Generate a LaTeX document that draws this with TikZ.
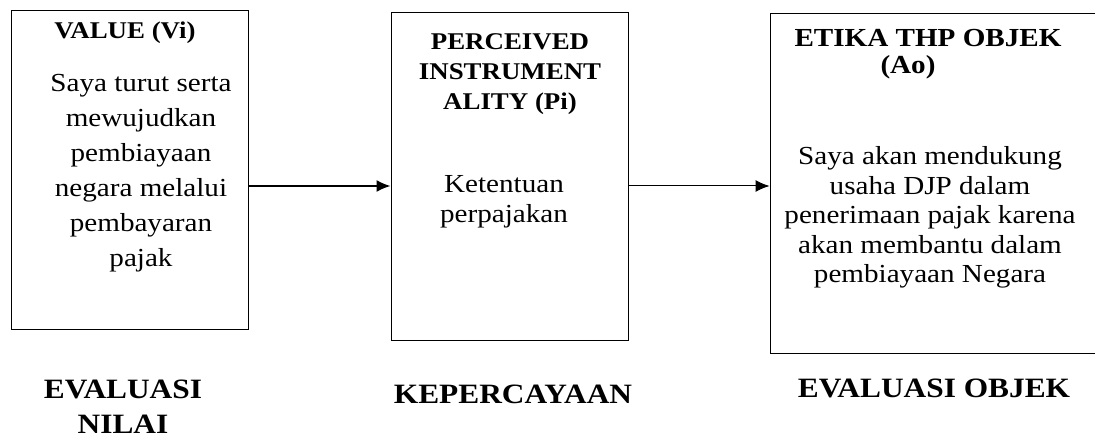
\documentclass[tikz,border=0pt]{standalone}
\usepackage{fontspec}
\setmainfont{Liberation Serif}[FakeStretch=1.12]
\usetikzlibrary{arrows.meta}
\tikzstyle{block} = [rectangle, draw, line width=1pt, inner sep=0pt]
\tikzstyle{link} = [draw, -{Latex[length=14pt,width=12pt]}]
\tikzset{
	heading/.style={anchor=base, align=center, inner sep=0pt,
		font=\fontsize{24}{30}\selectfont\bfseries},
	content/.style={anchor=base, align=center, inner sep=0pt,
		font=\fontsize{26}{#1}\selectfont},
	content/.default=30,
	caption/.style={anchor=base, align=center, inner sep=0pt,
		font=\fontsize{28}{35}\selectfont\bfseries},
}

\begin{document}
\begin{tikzpicture}[x=1pt, y=-1pt]
\useasboundingbox (0,0) rectangle (1095,438);

\node [block, minimum width=237pt, minimum height=319pt] at (129.5,170.5) (vi) {};
\node [block, minimum width=237pt, minimum height=327pt] at (509.5,176.5) (pi) {};
\node [block, minimum width=330pt, minimum height=339pt] at (935,183.5) (ao) {};

% base = last line
\node [heading] at (125,39) (vi title) {VALUE (Vi)};
\node [content=35] at (141,267) (vi text) {Saya turut serta\\ mewujudkan\\ pembiayaan\\
	negara melalui\\ pembayaran\\ pajak};

\node [heading] at (510,110) (pi title) {PERCEIVED\\ INSTRUMENT\\ ALITY (Pi)};
\node [content] at (504,223) (pi text) {Ketentuan\\ perpajakan};

\node [heading, font=\fontsize{26}{27}\selectfont\bfseries] at (928,74) (ao title)
	{ETIKA THP OBJEK\\ (Ao)\hspace*{40pt}};
\node [content=29.5] at (930,283) (ao text) {Saya akan mendukung\\ usaha DJP dalam\\
	penerimaan pajak karena\\ akan membantu dalam\\ pembiayaan Negara};

\coordinate (flow) at (0,186);
\path [link, line width=1.5pt] (vi.east |- flow) -- (pi.west |- flow);
\path [link, line width=1pt] (pi.east |- flow) -- (ao.west |- flow);

\foreach \x/\y/\name/\label in {123/433/nilai/{EVALUASI\\ NILAI},
	513/403/percaya/KEPERCAYAAN, 934/397/objek/EVALUASI OBJEK}
	\node [caption] at (\x,\y) (\name) {\label};

\end{tikzpicture}
\end{document}
